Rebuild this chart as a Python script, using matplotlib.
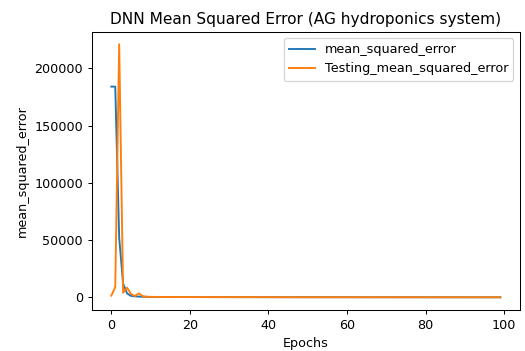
import matplotlib
matplotlib.use("Agg")
import matplotlib.pyplot as plt

# training / testing MSE per epoch
mean_squared_error = [
    184000, 184000, 52000, 12000, 3500, 1300, 900, 700, 550, 450,
    400, 380, 360, 340, 330, 320, 310, 300, 290, 285,
    280, 275, 270, 265, 260, 255, 250, 245, 240, 235,
    230, 225, 220, 215, 210, 205, 200, 198, 195, 192,
    190, 188, 185, 182, 180, 178, 175, 172, 170, 168,
    165, 162, 160, 158, 155, 152, 150, 148, 146, 144,
    142, 140, 138, 136, 134, 132, 130, 128, 126, 124,
    122, 120, 118, 116, 115, 114, 113, 112, 111, 110,
    109, 108, 107, 106, 105, 104, 103, 102, 101, 100,
    99, 98, 97, 96, 95, 94, 93, 92, 91, 90,
]
testing_mean_squared_error = [
    1500, 9000, 221000, 4000, 8500, 3000, 1200, 3500, 1000, 500,
    420, 400, 380, 360, 350, 340, 330, 320, 310, 300,
    295, 290, 285, 280, 275, 270, 265, 260, 255, 250,
    245, 240, 235, 230, 225, 220, 215, 210, 205, 200,
    198, 195, 192, 190, 188, 185, 182, 180, 178, 175,
    172, 170, 168, 165, 162, 160, 158, 155, 152, 150,
    148, 146, 144, 142, 140, 138, 136, 134, 132, 130,
    128, 126, 124, 122, 120, 118, 116, 115, 114, 113,
    112, 111, 110, 109, 108, 107, 106, 105, 104, 103,
    102, 101, 100, 99, 98, 97, 96, 95, 94, 93,
]
epochs = list(range(len(mean_squared_error)))

DPI = 92
fig = plt.figure(figsize=(525 / DPI, 351 / DPI), dpi=DPI)
ax = fig.add_axes([0.175, 0.117, 0.815, 0.793])
ax.plot(epochs, mean_squared_error, label="mean_squared_error")
ax.plot(epochs, testing_mean_squared_error, label="Testing_mean_squared_error")
ax.set_title("DNN Mean Squared Error (AG hydroponics system)")
ax.set_xlabel("Epochs")
ax.set_ylabel("mean_squared_error")
ax.legend()
fig.savefig("out.png", dpi=DPI)
